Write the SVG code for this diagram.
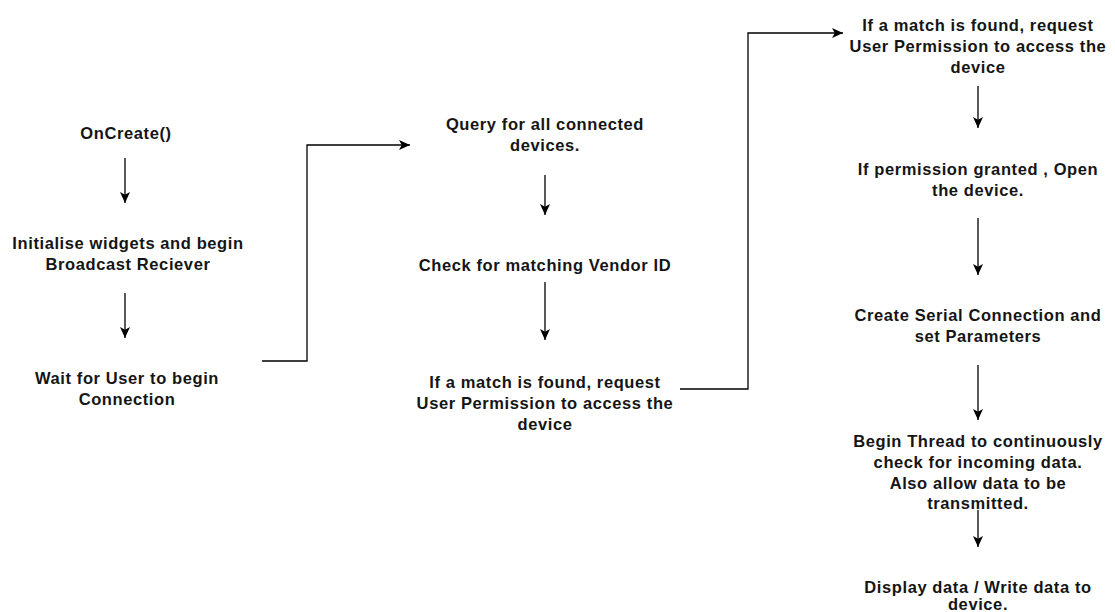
<svg xmlns="http://www.w3.org/2000/svg" width="1115" height="612" viewBox="0 0 1115 612">
  <style>
    .lbl { font-family: "Liberation Sans", Arial, sans-serif; font-size: 16.5px; font-weight: bold; letter-spacing: 0.6px; fill: #151515; text-anchor: middle; }
    .edge { fill: none; stroke: #000; stroke-width: 1.3; }
  </style>
  <defs>
    <marker id="arrow" viewBox="0 0 11 11" refX="11" refY="5.5" markerWidth="11" markerHeight="11" markerUnits="userSpaceOnUse" orient="auto">
      <path d="M0,0.5 L11,5.5 L0,10.5 L2.8,5.5 Z" fill="#000"/>
    </marker>
  </defs>
  <rect width="1115" height="612" fill="#fff"/>

  <g id="connectors">
    <!-- left column -->
    <path class="edge" d="M125,158 V203" marker-end="url(#arrow)"/>
    <path class="edge" d="M125,293 V338" marker-end="url(#arrow)"/>
    <path class="edge" d="M262,361 H307 V145 H410" marker-end="url(#arrow)"/>
    <!-- middle column -->
    <path class="edge" d="M545,175 V215" marker-end="url(#arrow)"/>
    <path class="edge" d="M545,282 V340" marker-end="url(#arrow)"/>
    <path class="edge" d="M680,389 H748 V33 H843" marker-end="url(#arrow)"/>
    <!-- right column -->
    <path class="edge" d="M978,86 V128" marker-end="url(#arrow)"/>
    <path class="edge" d="M978,218 V275" marker-end="url(#arrow)"/>
    <path class="edge" d="M978,365 V420" marker-end="url(#arrow)"/>
    <path class="edge" d="M978,510 V547" marker-end="url(#arrow)"/>
  </g>

  <g id="onCreate"><text class="lbl" x="126" y="139">OnCreate()</text></g>
  <g id="initWidgets">
    <text class="lbl" x="128" y="249">Initialise widgets and begin</text>
    <text class="lbl" x="128" y="270">Broadcast Reciever</text>
  </g>
  <g id="waitUser">
    <text class="lbl" x="127" y="384">Wait for User to begin</text>
    <text class="lbl" x="127" y="405">Connection</text>
  </g>

  <g id="queryDevices">
    <text class="lbl" x="545" y="130">Query for all connected</text>
    <text class="lbl" x="545" y="151">devices.</text>
  </g>
  <g id="checkVendor"><text class="lbl" x="545" y="271">Check for matching Vendor ID</text></g>
  <g id="requestPermission1">
    <text class="lbl" x="545" y="388">If a match is found, request</text>
    <text class="lbl" x="545" y="409">User Permission to access the</text>
    <text class="lbl" x="545" y="430">device</text>
  </g>

  <g id="requestPermission2">
    <text class="lbl" x="978" y="31">If a match is found, request</text>
    <text class="lbl" x="978" y="52">User Permission to access the</text>
    <text class="lbl" x="978" y="73">device</text>
  </g>
  <g id="openDevice">
    <text class="lbl" x="978" y="175">If permission granted , Open</text>
    <text class="lbl" x="978" y="196">the device.</text>
  </g>
  <g id="serialConnection">
    <text class="lbl" x="978" y="321">Create Serial Connection and</text>
    <text class="lbl" x="978" y="342">set Parameters</text>
  </g>
  <g id="beginThread">
    <text class="lbl" x="978" y="447">Begin Thread to continuously</text>
    <text class="lbl" x="978" y="468">check for incoming data.</text>
    <text class="lbl" x="978" y="489">Also allow data to be</text>
    <text class="lbl" x="978" y="509">transmitted.</text>
  </g>
  <g id="displayData">
    <text class="lbl" x="978" y="593">Display data / Write data to</text>
    <text class="lbl" x="978" y="610">device.</text>
  </g>
</svg>
